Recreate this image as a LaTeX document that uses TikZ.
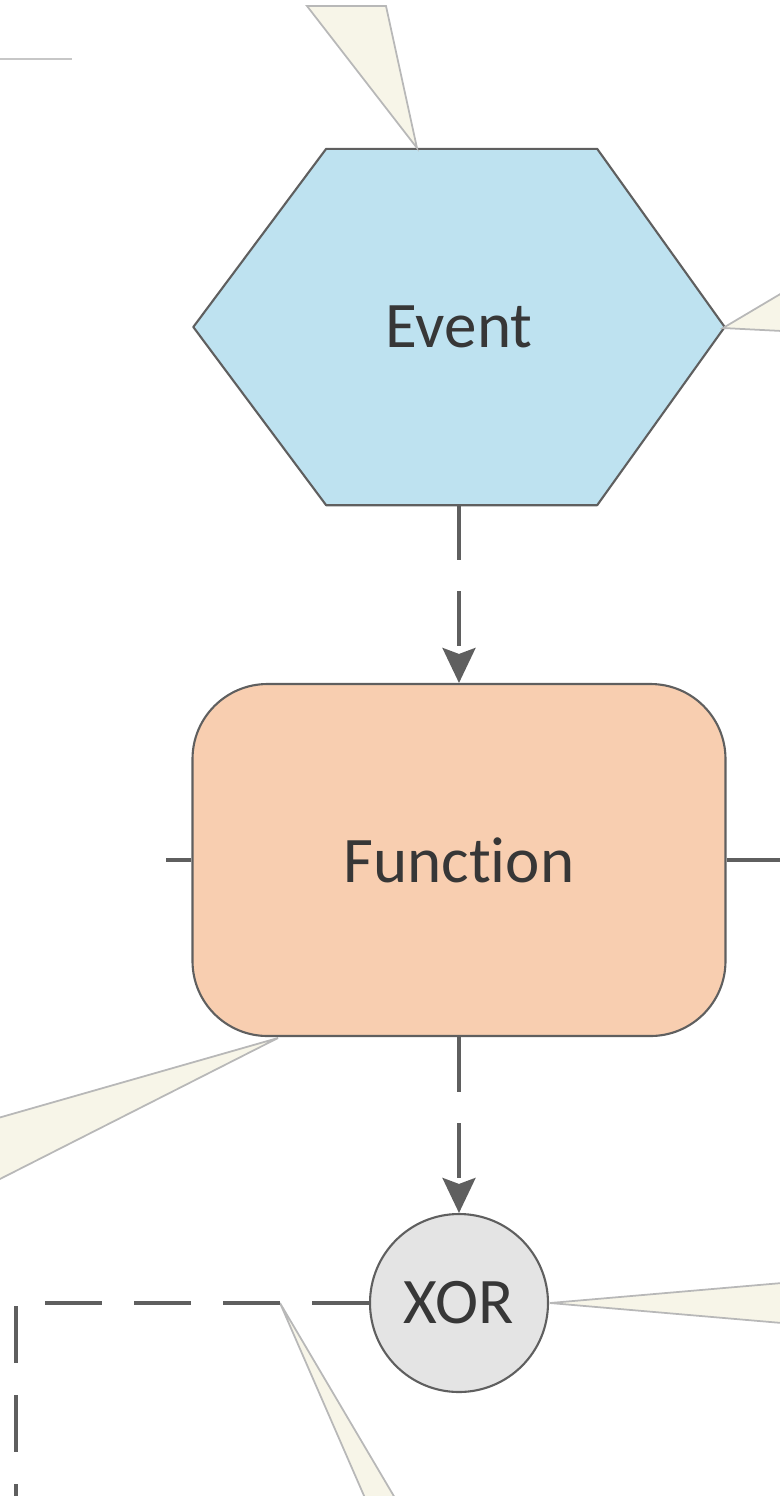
\documentclass[tikz,border=0pt]{standalone}
\usepackage{fontspec}
\setmainfont[Ligatures=NoCommon]{Carlito}
\usetikzlibrary{arrows.meta,calc,backgrounds}
\definecolor{evcol}{RGB}{190,226,240}
\definecolor{fncol}{RGB}{248,206,176}
\definecolor{opcol}{RGB}{228,228,228}
\definecolor{notecol}{RGB}{247,245,232}
\definecolor{linecol}{RGB}{95,95,95}
\definecolor{txtcol}{RGB}{55,55,55}
\tikzset{every picture/.style={x=0.1mm,y=-0.1mm}}
\tikzset{shapetxt/.style={font=\fontsize{18.5}{22}\selectfont,text=txtcol}}
\tikzset{event/.style={shapetxt,minimum width=53mm,minimum height=35.5mm,inner sep=0pt}}
\tikzset{hexa/.style={draw=linecol,fill=evcol,line width=0.6pt,line join=round}}
\tikzset{func/.style={shapetxt,draw=linecol,fill=fncol,line width=0.6pt,rounded corners=7.5mm,minimum width=53.3mm,minimum height=35.2mm}}
\tikzset{conn/.style={shapetxt,circle,draw=linecol,fill=opcol,line width=0.6pt,minimum size=17.8mm,inner sep=0pt}}
\tikzset{flow/.style={linecol,line width=1pt,dash pattern=on 5.5mm off 3.1mm,-{Stealth[length=3.5mm,width=3.3mm,inset=0.6mm]}}}
\tikzset{link/.style={linecol,line width=1pt}}
\tikzset{note/.style={draw=black!28,fill=notecol,line width=0.5pt}}

\begin{document}
\begin{tikzpicture}
\useasboundingbox (0,0) rectangle (780,1496);

\draw [note] (417,148) -- (307,6) -- (386,6) -- cycle;
\draw [note] (723,328) -- (782,293) -- (782,331) -- cycle;
\draw [note] (278,1038) -- (-2,1118) -- (-2,1180) -- cycle;
\draw [note] (550,1303) -- (782,1283) -- (782,1323) -- cycle;
\draw [note] (280,1303) -- (365,1498) -- (395,1498) -- cycle;

\coordinate (tl1) at (0,59);
\coordinate (tl2) at (72,59);
\draw [black!22,line width=0.5pt] (tl1) -- (tl2);

\node [event] (ev) at (459,327) {Event};
\begin{scope}[on background layer]
\draw [hexa] (ev.west) -- ($(ev.north west)!0.25!(ev.north east)$) -- ($(ev.north west)!0.76!(ev.north east)$) -- (ev.east)
  -- ($(ev.south west)!0.76!(ev.south east)$) -- ($(ev.south west)!0.25!(ev.south east)$) -- cycle;
\end{scope}

\node [func] (fn) at (459,860) {Function};
\node [conn] (xr) at (459,1303) {XOR};

\coordinate (fl) at (166,860);
\coordinate (fr) at (782,860);
\coordinate (lp) at (16,1500);

\draw [flow] (ev.south) -- (fn.north);
\draw [flow] (fn.south) -- (xr.north);

\draw [link] (fn.west) -- (fl);
\draw [link] (fn.east) -- (fr);
\draw [link,dash pattern=on 5.7mm off 3.2mm] (xr.west) -| (lp);
\end{tikzpicture}
\end{document}
